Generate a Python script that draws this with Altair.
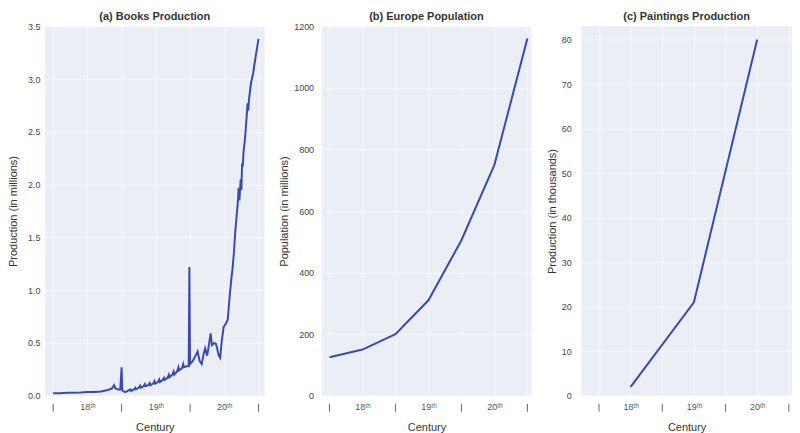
import altair as alt
import pandas as pd

# ---------------- data ----------------
book_years = [1700, 1710, 1720, 1730, 1740, 1750, 1760, 1770, 1780, 1786, 1789, 1791, 1795, 1798,
              1800, 1801, 1805, 1810, 1813, 1814, 1818, 1820, 1821, 1825, 1827, 1828, 1832, 1834,
              1835, 1839, 1841, 1842, 1846, 1848, 1849, 1853, 1855, 1856, 1860, 1862, 1863, 1867,
              1869, 1870, 1874, 1876, 1877, 1881, 1883, 1884, 1888, 1890, 1891, 1895, 1898, 1899,
              1900, 1904, 1908, 1911, 1914, 1917, 1920, 1922, 1925, 1928, 1930, 1932, 1935, 1938,
              1942, 1944, 1946, 1949, 1952, 1955, 1958, 1960, 1962, 1964, 1966, 1968, 1970, 1971,
              1972, 1973, 1974, 1975, 1976, 1977, 1978, 1980, 1982, 1984, 1985, 1986, 1989, 1992,
              1996, 2000]
book_values = [0.025, 0.025, 0.028, 0.028, 0.030, 0.035, 0.035, 0.040, 0.055, 0.070, 0.100, 0.070, 0.060, 0.060,
               0.270, 0.050, 0.035, 0.050, 0.060, 0.045, 0.060, 0.075, 0.060, 0.075, 0.095, 0.075, 0.090, 0.110,
               0.090, 0.100, 0.120, 0.100, 0.115, 0.140, 0.115, 0.130, 0.155, 0.130, 0.150, 0.170, 0.150, 0.170,
               0.200, 0.175, 0.200, 0.230, 0.200, 0.230, 0.270, 0.240, 0.260, 0.300, 0.270, 0.280, 0.280, 1.220,
               0.300, 0.330, 0.380, 0.420, 0.330, 0.300, 0.400, 0.450, 0.380, 0.500, 0.590, 0.480, 0.500, 0.490,
               0.380, 0.360, 0.500, 0.650, 0.680, 0.720, 0.950, 1.090, 1.200, 1.350, 1.550, 1.700, 1.850, 1.970,
               1.850, 1.950, 2.050, 1.950, 2.200, 2.170, 2.300, 2.420, 2.580, 2.770, 2.700, 2.800, 2.960, 3.050,
               3.220, 3.380]

pop_years = [1700, 1750, 1800, 1850, 1900, 1950, 2000]
pop_values = [125, 150, 200, 310, 505, 750, 1160]

paint_years = [1750, 1850, 1950]
paint_values = [2, 21, 80]

century_ticks = [1700, 1750, 1800, 1850, 1900, 1950, 2000]
century_bounds = [1700, 1800, 1900, 2000]
books_yticks = [0.0, 0.5, 1.0, 1.5, 2.0, 2.5, 3.0, 3.5]
pop_yticks = [0, 200, 400, 600, 800, 1000, 1200]
paint_yticks = [0, 10, 20, 30, 40, 50, 60, 70, 80]

# ---------------- style ----------------
H = 370
FONT = "Liberation Sans"
LINE = "#3a4bb0"
LABEL_EXPR = "datum.value % 100 == 0 ? ' ' : (floor(datum.value / 100) + 1) + 'ᵗʰ'"

bounds_df = pd.DataFrame({"year": century_bounds})

X_AXIS = alt.Axis(
    values=century_ticks,
    labelExpr=LABEL_EXPR,
    labelOverlap=False,
    title="Century",
    grid=True,
    gridColor="#ffffff",
    gridOpacity=0.5,
    domain=False,
    ticks=False,
    labelPadding=7,
    labelFontSize=9,
    labelColor="#555555",
    titlePadding=10,
    titleFontSize=11,
    titleFontWeight="normal",
    titleColor="#333333",
    labelFont=FONT,
    titleFont=FONT,
)


def panel(df, title, ytitle, xdom, ydom, yvals, yfmt, width, title_x, label_pad, title_off):
    xscale = alt.Scale(domain=xdom, nice=False, zero=False)
    x = alt.X("year:Q", scale=xscale, axis=X_AXIS)
    y = alt.Y(
        "value:Q",
        scale=alt.Scale(domain=ydom, nice=False, zero=False),
        axis=alt.Axis(
            values=yvals,
            format=yfmt,
            title=ytitle,
            grid=True,
            gridColor="#ffffff",
            gridOpacity=0.5,
            domain=False,
            ticks=False,
            labelPadding=label_pad,
            labelFontSize=9,
            labelColor="#444444",
            titleFontSize=11,
            titleFontWeight="normal",
            titleColor="#333333",
            titleX=title_x,
            titleY=H / 2,
            titleAngle=270,
            titleAlign="center",
            titleBaseline="bottom",
            labelFont=FONT,
            titleFont=FONT,
        ),
    )
    line = alt.Chart(df).mark_line(color=LINE, strokeWidth=2).encode(x=x, y=y)
    marks = (
        alt.Chart(bounds_df)
        .mark_rule(color="#666666", strokeWidth=1)
        .encode(
            x=alt.X("year:Q", scale=xscale, axis=X_AXIS),
            y=alt.value(H + 8),
            y2=alt.value(H + 16),
        )
    )
    return alt.layer(line, marks).properties(
        width=width,
        height=H,
        title=alt.TitleParams(
            text=title,
            fontSize=11,
            fontWeight="bold",
            font=FONT,
            color="#333333",
            frame="group",
            anchor="middle",
            offset=title_off,
        ),
    )


books_df = pd.DataFrame({"year": book_years, "value": book_values})
pop_df = pd.DataFrame({"year": pop_years, "value": pop_values})
paint_df = pd.DataFrame({"year": paint_years, "value": paint_values})

c1 = panel(books_df, "(a) Books Production", "Production (in millions)",
           [1688, 2009], [0, 3.5], books_yticks, ".1f", 220, -26, 5, 0)
c2 = panel(pop_df, "(b) Europe Population", "Population (in millions)",
           [1688, 2006], [0, 1200], pop_yticks, "d", 210, -32, 8, 0)
c3 = panel(paint_df, "(c) Paintings Production", "Production (in thousands)",
           [1672, 2005], [0, 83], paint_yticks, "d", 211, -24, 10, 4)

chart = (
    alt.hconcat(c1, c2, c3, spacing=14)
    .properties(padding={"left": 0, "top": 3, "right": 0, "bottom": 0}, background="#ffffff")
    .configure_view(fill="#ECEEF6", stroke=None)
)

chart.save("out.html", embed_options={"renderer": "svg", "actions": False})
